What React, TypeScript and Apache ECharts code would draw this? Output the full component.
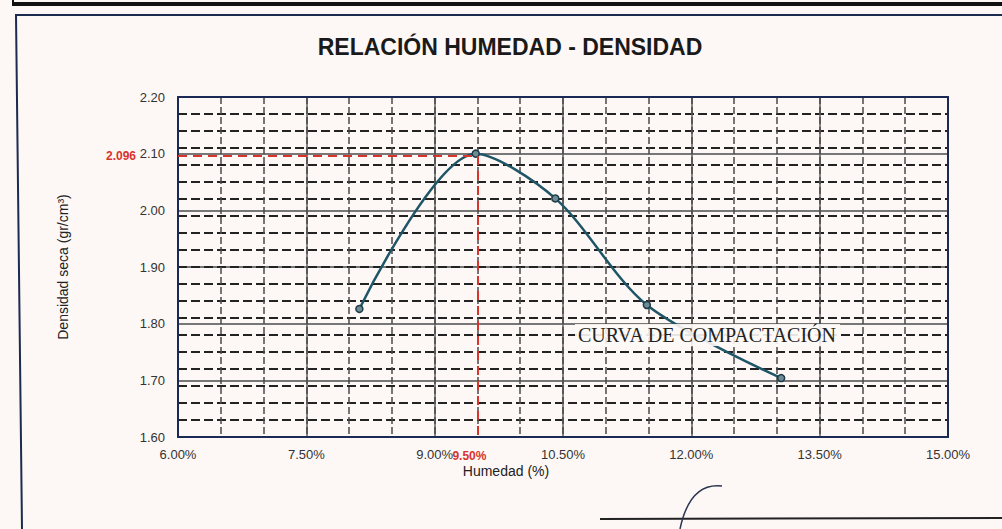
import React, { useEffect, useRef } from "react";
import * as echarts from "echarts";

// ---- data ----
const moisture = [8.12, 9.48, 10.41, 11.48, 13.05]; // Humedad (%)
const density = [1.826, 2.1, 2.021, 1.833, 1.704]; // Densidad seca (gr/cm3)
const optimumMoisture = 9.5;
const maxDryDensity = 2.096;
const optimumLabel = "9.50%";
const maxDensityLabel = "2.096";

const xMin = 6;
const xMax = 15;
const xMajor = 1.5;
const xMinor = 0.5;
const yMin = 1.6;
const yMax = 2.2;
const yMajor = 0.1;
const yMinorSpan = 0.6;
const yMinor = 0.03;

const titleText = "RELACIÓN HUMEDAD - DENSIDAD";
const xName = "Humedad (%)";
const yName = "Densidad seca (gr/cm³)";
const curveLabel = "CURVA DE COMPACTACIÓN";

const FONT = '"Liberation Sans", Arial, sans-serif';
const RED = "#d8342c";
const NAVY = "#1b2a55";
const BG = "#fdf8f6";

export default function App() {
  const ref = useRef<HTMLDivElement>(null);

  useEffect(() => {
    if (!ref.current) return;
    const chart = echarts.init(ref.current, null, { renderer: "svg" });

    const option: any = {
      animation: false,
      backgroundColor: BG,
      grid: {
        left: 178,
        right: 54,
        top: 97,
        bottom: 92,
        containLabel: false,
      },
      xAxis: [
        {
          type: "value",
          min: xMin,
          max: xMax,
          interval: xMajor,
          position: "bottom",
          axisLine: { show: true, lineStyle: { color: NAVY, width: 2 } },
          axisTick: { show: false },
          axisLabel: {
            margin: 11,
            color: "#333",
            fontFamily: FONT,
            fontSize: 13,
            formatter: (v: number) => v.toFixed(2) + "%",
          },
          splitLine: { show: true, lineStyle: { color: "#5e5e5e", width: 1.5, type: "solid" } },
        },
        {
          type: "value",
          min: xMin,
          max: xMax,
          interval: xMinor,
          position: "top",
          axisLine: { show: true, lineStyle: { color: NAVY, width: 2 } },
          axisTick: { show: false },
          axisLabel: { show: false },
          splitLine: { show: true, lineStyle: { color: "#4a4a4a", width: 1.5, type: [7, 3] } },
        },
      ],
      yAxis: [
        {
          type: "value",
          min: yMin,
          max: yMax,
          interval: yMajor,
          position: "left",
          name: yName,
          nameLocation: "middle",
          nameGap: 108,
          nameTextStyle: { fontFamily: FONT, fontSize: 14, color: "#222" },
          axisLine: { show: true, lineStyle: { color: NAVY, width: 2 } },
          axisTick: { show: false },
          axisLabel: {
            margin: 13,
            color: "#333",
            fontFamily: FONT,
            fontSize: 13,
            formatter: (v: number) => v.toFixed(2),
          },
          splitLine: { show: true, lineStyle: { color: "#777", width: 2, type: "solid" } },
        },
        {
          type: "value",
          min: 0,
          max: yMinorSpan,
          interval: yMinor,
          position: "right",
          axisLine: { show: true, lineStyle: { color: NAVY, width: 2 } },
          axisTick: { show: false },
          axisLabel: { show: false },
          splitLine: { show: true, lineStyle: { color: "#222", width: 2, type: [9, 4] } },
        },
      ],
      graphic: [
        {
          type: "text",
          x: 510,
          y: 47,
          z: 5,
          style: {
            text: titleText,
            font: "bold 23px " + FONT,
            fill: "#1a1a1a",
            textAlign: "center",
            textVerticalAlign: "middle",
          },
        },
        {
          type: "text",
          x: 506,
          y: 471,
          z: 5,
          style: {
            text: xName,
            font: "14px " + FONT,
            fill: "#222",
            textAlign: "center",
            textVerticalAlign: "middle",
          },
        },
        {
          type: "text",
          x: 575,
          y: 335,
          z: 6,
          style: {
            text: curveLabel,
            font: '20px "Liberation Serif", "Times New Roman", serif',
            fill: "#222",
            textAlign: "left",
            textVerticalAlign: "middle",
            backgroundColor: "rgba(253,248,246,0.9)",
            padding: [2, 3, 0, 3],
          },
        },
        {
          type: "line",
          z: 5,
          silent: true,
          shape: { x1: 13, y1: 4, x2: 1002, y2: 4 },
          style: { stroke: "#111", lineWidth: 4 },
        },
        {
          type: "line",
          z: 5,
          silent: true,
          shape: { x1: 13, y1: 0, x2: 13, y2: 6 },
          style: { stroke: "#111", lineWidth: 2 },
        },
        {
          type: "polyline",
          z: 5,
          silent: true,
          shape: { points: [[1002, 15], [16, 15], [22, 529]] },
          style: { stroke: "#1c2b50", lineWidth: 2, fill: null },
        },
        {
          type: "line",
          z: 5,
          silent: true,
          shape: { x1: 600, y1: 519, x2: 1002, y2: 518 },
          style: { stroke: "#222", lineWidth: 2 },
        },
        {
          type: "bezierCurve",
          z: 5,
          silent: true,
          shape: { x1: 680, y1: 529, x2: 722, y2: 486, cpx1: 690, cpy1: 482 },
          style: { stroke: "#2a3550", lineWidth: 1.5, fill: null },
        },
      ],
      series: [
        {
          type: "line",
          xAxisIndex: 0,
          yAxisIndex: 0,
          data: moisture.map((x, i) => [x, density[i]]),
          smooth: 0.3,
          symbol: "circle",
          symbolSize: 7,
          z: 4,
          lineStyle: { color: "#1e5567", width: 2.5 },
          itemStyle: { color: "#6d8c95", borderColor: "#1e3a48", borderWidth: 1.5 },
          markLine: {
            silent: true,
            symbol: ["none", "none"],
            lineStyle: { color: RED, width: 2, type: [9, 6] },
            data: [
              [
                {
                  coord: [xMin, maxDryDensity],
                  label: {
                    show: true,
                    position: "start",
                    distance: 42,
                    formatter: maxDensityLabel,
                    color: RED,
                    fontWeight: "bold",
                    fontSize: 12,
                    fontFamily: FONT,
                  },
                },
                { coord: [optimumMoisture, maxDryDensity] },
              ],
              [
                {
                  coord: [optimumMoisture, maxDryDensity],
                  label: {
                    show: true,
                    position: "end",
                    distance: 13,
                    formatter: optimumLabel,
                    color: RED,
                    fontWeight: "bold",
                    fontSize: 12,
                    fontFamily: FONT,
                    padding: [0, 16, 0, 0],
                  },
                },
                { coord: [optimumMoisture, yMin] },
              ],
            ],
          },
        },
      ],
    };

    chart.setOption(option);
    return () => chart.dispose();
  }, []);

  return (
    <div
      ref={ref}
      style={{ position: "fixed", left: 0, top: 0, width: 1002, height: 529 }}
    />
  );
}
